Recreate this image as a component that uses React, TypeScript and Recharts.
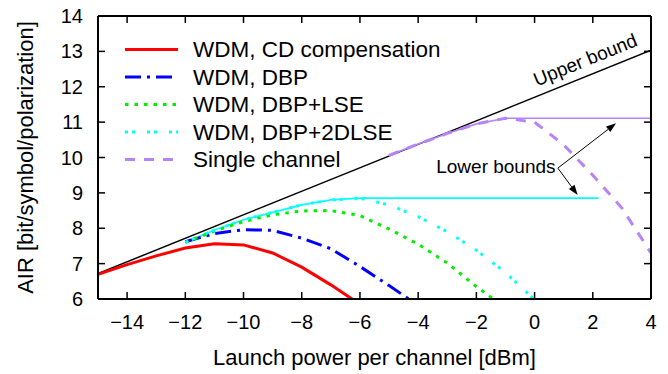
import { LineChart, Line, XAxis, YAxis, ReferenceLine, ReferenceDot, Legend } from "recharts"

const FONT = '"Liberation Sans", Arial, Helvetica, sans-serif'

// ── Data ─────────────────────────────────────────────────────────────
const xTicks = [-14, -12, -10, -8, -6, -4, -2, 0, 2, 4]
const yTicks = [6, 7, 8, 9, 10, 11, 12, 13, 14]

const upperPower = [-15, 4]
const upperAir = [6.72, 13.03]

const cdPower = [-15, -14, -13, -12, -11, -10, -9, -8, -7, -6]
const cdAir = [6.70, 6.97, 7.22, 7.44, 7.56, 7.53, 7.30, 6.90, 6.40, 5.85]

const dbpPower = [-12, -11, -10, -9, -8, -7, -6, -5, -4]
const dbpAir = [7.62, 7.85, 7.96, 7.94, 7.72, 7.42, 6.92, 6.38, 5.82]

const lsePower = [-12, -11, -10, -9, -8, -7, -6, -5, -4, -3, -2, -1]
const lseAir = [7.60, 7.92, 8.19, 8.38, 8.49, 8.50, 8.36, 7.98, 7.55, 7.02, 6.35, 5.75]

const dlsePower = [-12, -11, -10, -9, -8, -7, -6, -5, -4, -3, -2, -1, 0]
const dlseAir = [7.60, 7.95, 8.24, 8.45, 8.66, 8.80, 8.85, 8.66, 8.33, 7.90, 7.38, 6.75, 5.98]

const singlePower = [-5, -4, -3, -2, -1, 0, 1, 2, 3, 4]
const singleAir = [10.06, 10.38, 10.68, 10.95, 11.11, 11.00, 10.36, 9.50, 8.57, 7.30]

// where the horizontal lower-bound lines stop
const dlseBoundEnd = 2.2
const singleBoundEnd = 4

const seriesNames = ["WDM, CD compensation", "WDM, DBP", "WDM, DBP+LSE", "WDM, DBP+2DLSE", "Single channel"]

// ── helpers ───────────────────────────────────────────────────────────
const zip = (xs: number[], ys: number[]) => xs.map((x, i) => ({ x, y: ys[i] }))

// curve up to its maximum, then flat out to `end`
const boundOf = (xs: number[], ys: number[], end: number) => {
    const peak = ys.indexOf(Math.max(...ys))
    return [...zip(xs, ys).slice(0, peak + 1), { x: end, y: ys[peak] }]
}

const fmt = (v: number) => (v < 0 ? "\u2212" + Math.abs(v) : String(v))

const upperData = zip(upperPower, upperAir)
const cdData = zip(cdPower, cdAir)
const dbpData = zip(dbpPower, dbpAir)
const lseData = zip(lsePower, lseAir)
const dlseData = zip(dlsePower, dlseAir)
const singleData = zip(singlePower, singleAir)
const dlseBound = boundOf(dlsePower, dlseAir, dlseBoundEnd)
const singleBound = boundOf(singlePower, singleAir, singleBoundEnd)

const styles = [
    { color: "#ff0000", dash: undefined },
    { color: "#0000ff", dash: "16 6 3 6" },
    { color: "#00ee00", dash: "3.5 6" },
    { color: "#00ffff", dash: "3 4 3 12" },
    { color: "#b784f7", dash: "10 9" },
]

// ── tick renderers (inward ticks) ─────────────────────────────────────
const BottomTick = (p: any) => (
    <g>
        <line x1={p.x} y1={p.y} x2={p.x} y2={p.y - 7} stroke="#000" strokeWidth={1.5} />
        <text x={p.x} y={p.y + 30} textAnchor="middle" fontSize={20} fontFamily={FONT} fill="#000">
            {fmt(p.payload.value)}
        </text>
    </g>
)
const TopTick = (p: any) => (
    <line x1={p.x} y1={p.y} x2={p.x} y2={p.y + 7} stroke="#000" strokeWidth={1.5} />
)
const LeftTick = (p: any) => (
    <g>
        <line x1={p.x} y1={p.y} x2={p.x + 7} y2={p.y} stroke="#000" strokeWidth={1.5} />
        <text x={p.x - 15} y={p.y + 7} textAnchor="end" fontSize={20} fontFamily={FONT} fill="#000">
            {fmt(p.payload.value)}
        </text>
    </g>
)
const RightTick = (p: any) => (
    <line x1={p.x} y1={p.y} x2={p.x - 7} y2={p.y} stroke="#000" strokeWidth={1.5} />
)

const Arrow = (p: any) => {
    const { x1, y1, x2, y2 } = p
    const a = Math.atan2(y2 - y1, x2 - x1)
    const L = 10, W = 3.5
    const bx = x2 - L * Math.cos(a), by = y2 - L * Math.sin(a)
    const pts = [
        [x2, y2],
        [bx + W * Math.sin(a), by - W * Math.cos(a)],
        [bx - W * Math.sin(a), by + W * Math.cos(a)],
    ].map(q => q.join(",")).join(" ")
    return (
        <g>
            <line x1={x1} y1={y1} x2={bx} y2={by} stroke="#000" strokeWidth={1} />
            <polygon points={pts} fill="#000" />
        </g>
    )
}

const LegendBox = () => {
    const rows = [49.5, 77, 104.5, 132, 159.5]
    return (
        <svg width={668} height={374} style={{ display: "block" }}>
            {seriesNames.map((name, i) => (
                <g key={name}>
                    <line x1={125} x2={178} y1={rows[i]} y2={rows[i]}
                        stroke={styles[i].color} strokeWidth={3} strokeDasharray={styles[i].dash} />
                    <text x={193} y={rows[i] + 7.5} fontSize={22.5} fontFamily={FONT} fill="#000">{name}</text>
                </g>
            ))}
        </svg>
    )
}

export default function App() {
    const series = [cdData, dbpData, lseData, dlseData, singleData]
    return (
        <div style={{ position: "absolute", left: 0, top: 0, width: 668, height: 374, background: "#fff" }}>
            <LineChart width={668} height={374} margin={{ top: 15, right: 16, bottom: 74, left: 97 }}>
                <XAxis dataKey="x" type="number" domain={[-15, 4]} ticks={xTicks} interval={0}
                    allowDataOverflow height={1} tickSize={0} tickMargin={0} tickLine={false}
                    tick={BottomTick} axisLine={{ stroke: "#000", strokeWidth: 2 }}
                    label={{
                        content: (p: any) => (
                            <text x={p.viewBox.x + p.viewBox.width / 2} y={p.viewBox.y + 66}
                                textAnchor="middle" fontSize={22} fontFamily={FONT} fill="#000">
                                Launch power per channel [dBm]
                            </text>
                        )
                    }} />
                <XAxis xAxisId="top" orientation="top" dataKey="x" type="number" domain={[-15, 4]}
                    ticks={xTicks} interval={0} allowDataOverflow height={1} tickSize={0} tickMargin={0}
                    tickLine={false} tick={TopTick} axisLine={{ stroke: "#000", strokeWidth: 2 }} />
                <YAxis type="number" domain={[6, 14]} ticks={yTicks} interval={0} allowDataOverflow
                    width={1} tickSize={0} tickMargin={0} tickLine={false} tick={LeftTick}
                    axisLine={{ stroke: "#000", strokeWidth: 2 }}
                    label={{
                        content: (p: any) => {
                            const cx = p.viewBox.x + p.viewBox.width - 65
                            const cy = p.viewBox.y + p.viewBox.height / 2
                            return (
                                <text x={cx} y={cy} transform={`rotate(-90 ${cx} ${cy})`}
                                    textAnchor="middle" fontSize={22} fontFamily={FONT} fill="#000">
                                    AIR [bit/symbol/polarization]
                                </text>
                            )
                        }
                    }} />
                <YAxis yAxisId="right" orientation="right" type="number" domain={[6, 14]} ticks={yTicks}
                    interval={0} allowDataOverflow width={1} tickSize={0} tickMargin={0} tickLine={false}
                    tick={RightTick} axisLine={{ stroke: "#000", strokeWidth: 2 }} />

                <Legend layout="vertical" align="center" verticalAlign="middle" content={LegendBox}
                    wrapperStyle={{ left: 0, top: 0, width: 668, height: 374, pointerEvents: "none" }} />

                <Line data={upperData} dataKey="y" stroke="#000" strokeWidth={1.5} dot={false}
                    activeDot={false} legendType="none" isAnimationActive={false} />
                <Line data={dlseBound} dataKey="y" stroke="#00ffff" strokeWidth={1.7} dot={false}
                    activeDot={false} legendType="none" isAnimationActive={false} />
                <Line data={singleBound} dataKey="y" stroke="#b784f7" strokeWidth={1.7} dot={false}
                    activeDot={false} legendType="none" isAnimationActive={false} />
                {series.map((d, i) => (
                    <Line key={seriesNames[i]} name={seriesNames[i]} data={d} dataKey="y"
                        stroke={styles[i].color} strokeWidth={3} strokeDasharray={styles[i].dash}
                        dot={false} activeDot={false} isAnimationActive={false} />
                ))}

                <ReferenceDot x={1.74} y={12.76} r={0} fill="none" stroke="none"
                    label={{
                        content: (p: any) => {
                            const cx = p.viewBox.x, cy = p.viewBox.y
                            return (
                                <text x={cx} y={cy} transform={`rotate(-22 ${cx} ${cy})`} textAnchor="middle"
                                    dominantBaseline="central" fontSize={19} fontFamily={FONT} fill="#000">
                                    Upper bound
                                </text>
                            )
                        }
                    }} />
                <ReferenceDot x={-3.38} y={9.57} r={0} fill="none" stroke="none"
                    label={{
                        content: (p: any) => (
                            <text x={p.viewBox.x} y={p.viewBox.y} fontSize={19} fontFamily={FONT} fill="#000">
                                Lower bounds
                            </text>
                        )
                    }} />
                <ReferenceLine segment={[{ x: 0.8, y: 9.7 }, { x: 2.8, y: 10.97 }]} shape={Arrow} />
                <ReferenceLine segment={[{ x: 0.8, y: 9.7 }, { x: 1.48, y: 8.94 }]} shape={Arrow} />
            </LineChart>
        </div>
    )
}
